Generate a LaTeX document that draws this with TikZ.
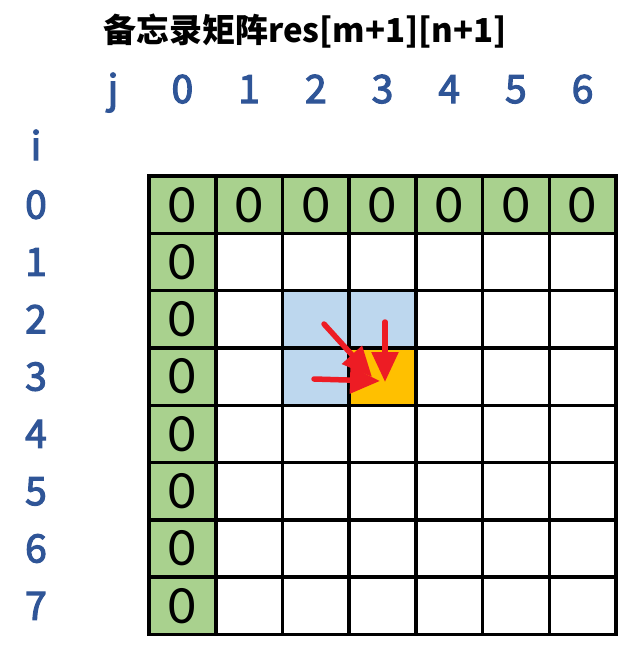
\documentclass[tikz,border=0pt]{standalone}
\usepackage{fontspec}
\setmainfont{Liberation Sans}
\newfontfamily\cjk{Noto Sans CJK SC}
\newfontfamily\idxfont{Noto Sans CJK SC}[FakeBold=3]
\newfontfamily\cellfont{Carlito}
\usetikzlibrary{positioning,arrows.meta}
\definecolor{idxblue}{HTML}{2F5597}
\definecolor{zerogreen}{HTML}{A9D18E}
\definecolor{nbblue}{HTML}{BDD7EE}
\definecolor{curorange}{HTML}{FFC000}
\definecolor{arrowred}{HTML}{ED1C24}

\begin{document}
\begin{tikzpicture}[x=1pt, y=-1pt,
    cell/.style={draw, line width=3.5pt, minimum width=66.7pt, minimum height=57.3pt,
                 inner sep=0pt, font=\cellfont\fontsize{54}{54}\selectfont},
    idx/.style={text=idxblue, anchor=base, inner sep=0pt, font=\idxfont\fontsize{39}{39}\selectfont},
    redarrow/.style={color=arrowred, line width=5.5pt, line cap=round,
                     -{Triangle[length=30pt,width=26pt]}}]
  \useasboundingbox (0,0) rectangle (632,656);

  % title
  \node[anchor=base west, inner sep=0pt, font=\cjk\bfseries\fontsize{33}{33}\selectfont]
    (title) at (103,42) {备忘录矩阵res[m+1][n+1]};

  % index labels
  \node[idx] (j) at (113,103) {j};
  \node[idx] (i) at (36,160) {i};
  \foreach \c in {0,...,6}
    \node[idx] (col\c) at ({182.4+66.7*\c},103) {\c};
  \foreach \r in {0,...,7}
    \node[idx] (row\r) at (36,{218.6+57.3*\r}) {\r};

  % memo table
  \foreach \r in {0,...,7}
    \foreach \c in {0,...,6}
      \node[cell] (c\r\c) at ({182.4+66.7*\c},{204.7+57.3*\r}) {};
  \foreach \c in {0,...,6}
    \node[cell, fill=zerogreen] (c0\c) at ({182.4+66.7*\c},204.7) {0};
  \foreach \r in {1,...,7}
    \node[cell, fill=zerogreen] (c\r0) at (182.4,{204.7+57.3*\r}) {0};
  \node[cell, fill=nbblue] (c22) at (315.8,319.3) {};
  \node[cell, fill=nbblue] (c23) at (382.5,319.3) {};
  \node[cell, fill=nbblue] (c32) at (315.8,376.6) {};
  \node[cell, fill=curorange] (c33) at (382.5,376.6) {};

  % arrows into res[3][3]
  \coordinate (diagS) at (324,324);
  \coordinate (diagE) at (372,377);
  \coordinate (upS) at (385,322);
  \coordinate (upE) at (385,382);
  \coordinate (leftS) at (314,379);
  \coordinate (leftE) at (380,381);
  \draw[redarrow] (diagS) -- (diagE);
  \draw[redarrow] (upS) -- (upE);
  \draw[redarrow] (leftS) -- (leftE);
\end{tikzpicture}
\end{document}
